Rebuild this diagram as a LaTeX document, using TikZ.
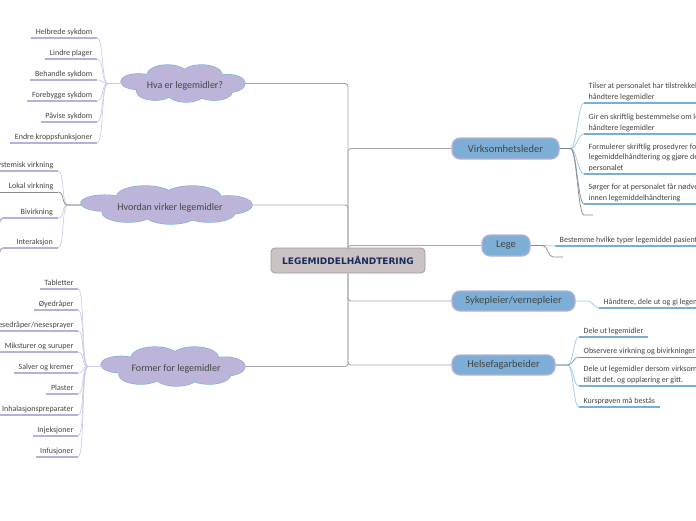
\documentclass[tikz,border=0pt]{standalone}
\usepackage{fontspec}
\setmainfont{Carlito}
\newfontfamily\ctrfont{DejaVu Sans}
\definecolor{lav}{HTML}{B9B0DA}
\definecolor{lavln}{HTML}{D2CAEA}
\definecolor{cloudfill}{HTML}{BDB5D9}
\definecolor{cloudedge}{HTML}{7FB0DC}
\definecolor{bluebox}{HTML}{7DAFD6}
\definecolor{blueul}{HTML}{7AAED8}
\definecolor{blueln}{HTML}{A9CDEA}
\definecolor{ctrfill}{HTML}{CBC3C3}
\definecolor{ctredge}{HTML}{A39B9B}
\definecolor{ctrtext}{HTML}{1B2A5C}
\definecolor{trunk}{HTML}{A8A8A8}
\definecolor{txt}{HTML}{444444}
\definecolor{grayln}{HTML}{8A8A8A}
\newcommand{\mycloud}[3]{%
  \begin{scope}[shift={(#1.center)}]
  \foreach \px/\py/\rx/\ry in {-0.72/-0.1/0.28/0.42, -0.25/-0.45/0.33/0.55, 0.3/-0.45/0.33/0.55, 0.72/0/0.28/0.48, -0.45/0.4/0.3/0.5, 0.05/0.5/0.3/0.5, 0.5/0.4/0.3/0.5, 0/0/0.78/0.6}
    \draw[draw=cloudedge, fill=cloudfill, line width=1.3pt] ({\px*#2},{\py*#3}) ellipse [x radius={\rx*#2}, y radius={\ry*#3}];
  \foreach \px/\py/\rx/\ry in {-0.72/-0.1/0.28/0.42, -0.25/-0.45/0.33/0.55, 0.3/-0.45/0.33/0.55, 0.72/0/0.28/0.48, -0.45/0.4/0.3/0.5, 0.05/0.5/0.3/0.5, 0.5/0.4/0.3/0.5, 0/0/0.78/0.6}
    \fill[cloudfill] ({\px*#2},{\py*#3}) ellipse [x radius={\rx*#2}, y radius={\ry*#3}];
  \end{scope}}
\begin{document}
\begin{tikzpicture}[x=1pt,y=-1pt,
  ctrbox/.style={draw=ctredge, fill=ctrfill, rounded corners=4pt, line width=0.8pt, minimum width=154pt, minimum height=25pt, font=\ctrfont\bfseries\fontsize{9}{10}\selectfont, text=ctrtext, inner sep=0pt},
  cloudarea/.style={inner sep=0pt, outer sep=0pt},
  cloudtext/.style={text=txt, font=\fontsize{10}{12}\selectfont},
  rolebox/.style={draw=lav, fill=bluebox, line width=1.2pt, rounded corners=8pt, minimum height=21pt, font=\fontsize{10.5}{12}\selectfont, text=txt, inner sep=0pt},
  lleaf/.style={anchor=south east, font=\fontsize{8}{10}\selectfont, text=txt, inner xsep=4.5pt, inner ysep=2.5pt, text depth=1pt},
  rleaf/.style={anchor=south west, align=left, font=\fontsize{8}{10.5}\selectfont, text=txt, inner xsep=4.5pt, inner ysep=2.5pt, text depth=1pt},
  trunkln/.style={draw=trunk, line width=0.9pt, rounded corners=3pt},
  lavul/.style={draw=lav, line width=2.4pt},
  blueulst/.style={draw=blueul, line width=2.4pt},
  grayul/.style={draw=grayln, line width=0.7pt},
  lavcon/.style={draw=lavln, line width=0.7pt},
  bluecon/.style={draw=blueln, line width=0.8pt},
  graycon/.style={draw=grayln, line width=0.7pt},
]
\clip (0,0) rectangle (696,520);
\fill[white] (0,0) rectangle (696,520);

% centre
\node[ctrbox] (ctr) at (348,260.5) {LEGEMIDDELHÅNDTERING};

% clouds
\node[cloudarea, minimum width=124pt, minimum height=37pt] (hva) at (183,83.5) {};
\mycloud{hva}{62}{18.5}
\node[cloudtext] (hvat) at (185,86) {Hva er legemidler?};
\node[cloudarea, minimum width=171pt, minimum height=38pt] (hvordan) at (166.5,205) {};
\mycloud{hvordan}{85.5}{19}
\node[cloudtext] (hvordant) at (170,207.5) {Hvordan virker legemidler};
\node[cloudarea, minimum width=144pt, minimum height=39pt] (former) at (173,366.5) {};
\mycloud{former}{72}{19.5}
\node[cloudtext] (formert) at (176,369) {Former for legemidler};

% role boxes
\node[rolebox, minimum width=107pt] (virk) at (505.5,148.5) {Virksomhetsleder};
\node[rolebox, minimum width=48pt] (lege) at (506,245.5) {Lege};
\node[rolebox, minimum width=123pt, minimum height=20pt] (syk) at (513.5,301) {Sykepleier/vernepleier};
\node[rolebox, minimum width=103pt, minimum height=20pt] (helse) at (503.5,365) {Helsefagarbeider};

% trunk
\draw[trunkln] (hva.east) -| (ctr.north);
\draw[trunkln] (hvordan.east) -| (ctr.north);
\draw[trunkln] (former.east) -| (ctr.south);
\draw[trunkln] (ctr.north) |- (virk.west);
\draw[trunkln] (ctr.north) |- (lege.west);
\draw[trunkln] (ctr.south) |- (syk.west);
\draw[trunkln] (ctr.south) |- (helse.west);

% ---- Hva er legemidler leaves
\node[lleaf] (a1) at (97,38) {Helbrede sykdom};
\node[lleaf] (a2) at (97,59) {Lindre plager};
\node[lleaf] (a3) at (97,80) {Behandle sykdom};
\node[lleaf] (a4) at (97,101) {Forebygge sykdom};
\node[lleaf] (a5) at (97,122) {Påvise sykdom};
\node[lleaf] (a6) at (97,143) {Endre kroppsfunksjoner};
\foreach \n in {a1,a2,a3,a4,a5,a6}{
  \draw[lavul] (\n.south west) -- (\n.south east);
  \draw[lavcon] (hva.west) -- ++(-13,0) .. controls +(-7,0) and +(7,0) .. (\n.south east);
}

% ---- Hvordan virker leaves
\node[lleaf] (b1) at (58,171) {Systemisk virkning};
\node[lleaf] (b2) at (58,192) {Lokal virkning};
\node[lleaf, minimum width=55pt, align=right, text width=45pt] (b3) at (58,218) {Bivirkning};
\node[lleaf, minimum width=55pt, align=right, text width=45pt] (b4) at (58,248) {Interaksjon};
\draw[lavul] (b1.south west) -- (b1.south east);
\draw[grayul] (b2.south west) ++(-10,0) -- (b2.south east);
\draw[lavul] (b3.south west) -- (b3.south east);
\draw[lavul] (b4.south west) -- (b4.south east);
\coordinate (b3x) at (-1,223);
\coordinate (b4x) at (-1,253);
\draw[lavul, line width=1.6pt] (b3.south west) .. controls +(-2,0) and +(1,-2) .. (b3x);
\draw[lavul, line width=1.6pt] (b4.south west) .. controls +(-2,0) and +(1,-2) .. (b4x);
\foreach \n in {b1,b3,b4}{
  \draw[lavcon] (hvordan.west) -- ++(-13,0) .. controls +(-7,0) and +(7,0) .. (\n.south east);
}
\draw[graycon] (hvordan.west) -- ++(-13,0) .. controls +(-7,0) and +(7,0) .. (b2.south east);

% ---- Former leaves
\node[lleaf] (c1) at (78,289) {Tabletter};
\node[lleaf] (c2) at (78,310) {Øyedråper};
\node[lleaf] (c3) at (78,331) {Nesedråper/nesesprayer};
\node[lleaf] (c4) at (78,352) {Miksturer og suruper};
\node[lleaf] (c5) at (78,373) {Salver og kremer};
\node[lleaf] (c6) at (78,394) {Plaster};
\node[lleaf] (c7) at (78,415) {Inhalasjonspreparater};
\node[lleaf] (c8) at (78,436) {Injeksjoner};
\node[lleaf] (c9) at (78,457) {Infusjoner};
\foreach \n in {c1,c2,c3,c4,c5,c6,c7,c8,c9}{
  \draw[lavul] (\n.south west) -- (\n.south east);
  \draw[lavcon] (former.west) -- ++(-13,0) .. controls +(-7,0) and +(7,0) .. (\n.south east);
}

% ---- Virksomhetsleder leaves
\node[rleaf] (v1) at (584,103) {Tilser at personalet har tilstrekkelig\\håndtere legemidler};
\node[rleaf] (v2) at (584,134) {Gir en skriftlig bestemmelse om lov til å\\håndtere legemidler};
\node[rleaf] (v3) at (584,174) {Formulerer skriftlig prosedyrer for\\legemiddelhåndtering og gjøre dem kjent for\\personalet};
\node[rleaf] (v4) at (584,204) {Sørger for at personalet får nødvendig opplæring\\innen legemiddelhåndtering};
\coordinate (v5) at (584,215);
\coordinate (v5e) at (593,215);
\foreach \n in {v1,v2,v3,v4}{
  \draw[blueulst] (\n.south west) -- (\n.south east);
}
\foreach \n in {v1,v2,v3}{
  \draw[bluecon] (virk.east) -- ++(11,0) .. controls +(6,0) and +(-6,0) .. (\n.south west);
}
\draw[draw=blueul!70!gray, line width=0.8pt] (virk.east) -- ++(11,0) .. controls +(6,0) and +(-6,0) .. (v4.south west);
\draw[graycon] (virk.east) -- ++(11,0) .. controls +(6,0) and +(-6,0) .. (v5) -- (v5e);
\draw[draw=blueul!50!black!70, line width=0.9pt] (virk.east) -- ++(11,0);

% ---- Lege leaves
\node[rleaf] (g1) at (555,246) {Bestemme hvilke typer legemiddel pasienten skal ha};
\draw[blueulst] (g1.south west) -- (g1.south east);
\coordinate (g2) at (553,257);
\coordinate (g2e) at (563,257);
\draw[bluecon] (lege.east) -- ++(12,0) .. controls +(5,0) and +(-5,0) .. (g1.south west);
\draw[graycon] (lege.east) -- ++(12,0) .. controls +(5,0) and +(-5,0) .. (g2) -- (g2e);

% ---- Sykepleier leaf
\node[rleaf] (s1) at (599,308) {Håndtere, dele ut og gi legemidler};
\draw[blueulst] (s1.south west) -- (s1.south east);
\draw[bluecon] (syk.east) -- ++(12,0) .. controls +(5,0) and +(-5,0) .. (s1.south west);

% ---- Helsefagarbeider leaves
\node[rleaf] (f1) at (579,337) {Dele ut legemidler};
\node[rleaf] (f2) at (579,357) {Observere virkning og bivirkninger};
\node[rleaf] (f3) at (579,386) {Dele ut legemidler dersom virksomhetsleder har\\tillatt det, og opplæring er gitt.};
\node[rleaf] (f4) at (579,407) {Kursprøven må bestås};
\draw[blueulst] (f1.south west) -- (f1.south east);
\draw[grayul] (f2.south west) -- ++(130,0);
\draw[blueulst] (f3.south west) -- (f3.south east);
\draw[blueulst] (f4.south west) -- (f4.south east);
\foreach \n in {f1,f3,f4}{
  \draw[bluecon] (helse.east) -- ++(12,0) .. controls +(6,0) and +(-6,0) .. (\n.south west);
}
\draw[graycon] (helse.east) -- ++(12,0) .. controls +(6,0) and +(-6,0) .. (f2.south west);
\end{tikzpicture}
\end{document}
